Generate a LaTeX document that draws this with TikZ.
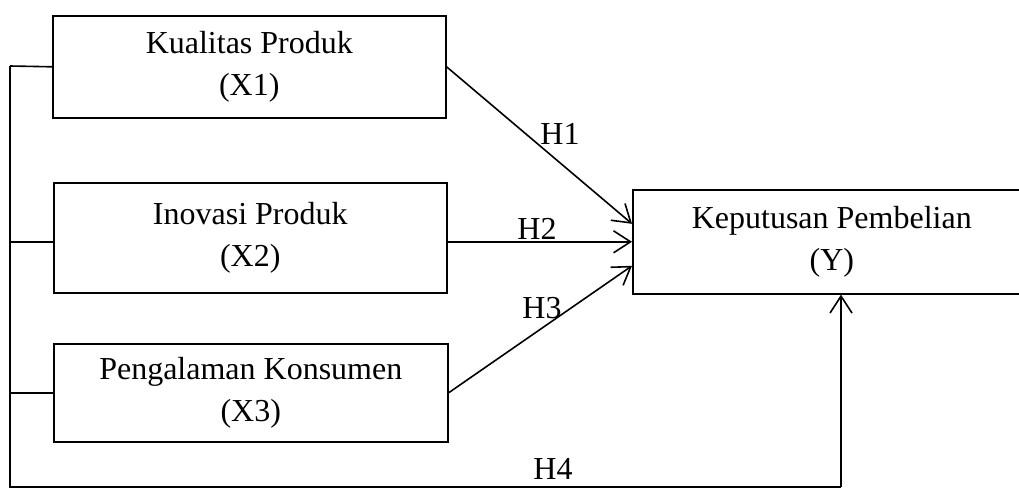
\documentclass[tikz,border=0pt]{standalone}
\usepackage{fontspec}
\setmainfont{Liberation Serif}
\usetikzlibrary{arrows.meta}
\begin{document}
\begin{tikzpicture}[x=1pt,y=-1pt,
  every node/.style={font=\fontsize{32}{42}\selectfont},
  varbox/.style={draw,line width=1.6pt,align=center,inner sep=0pt,anchor=north west},
  conn/.style={line width=1.6pt},
  arr/.style={line width=1.6pt,-{Straight Barb[length=17pt,width=22pt,line width=1.6pt]}},
  hlab/.style={inner sep=0pt}]
\useasboundingbox (0,0) rectangle (1019,487);
\node[varbox,minimum width=393pt,minimum height=102pt] (x1) at (52,15) {Kualitas Produk\\(X1)};
\node[varbox,minimum width=393pt,minimum height=110pt] (x2) at (53,182) {Inovasi Produk\\(X2)};
\node[varbox,minimum width=394pt,minimum height=98pt] (x3) at (53,343) {Pengalaman Konsumen\\(X3)};
\node[varbox,minimum width=398pt,minimum height=104pt] (y) at (632,189) {Keputusan Pembelian\\(Y)};
\coordinate (bt) at (10,66);
\coordinate (bb) at (10,487);
\coordinate (bh) at (841,487);
\draw[conn] (bt) -- (bb) -- (bh);
\draw[conn] (x1.west) -- (bt);
\draw[conn] (x2.west |- y.west) -- (y.west -| bt);
\draw[conn] (x3.west) -- (x3.west -| bt);
\draw[arr] (x1.east) -- ([yshift=18pt]y.west);
\draw[arr] (x2.east |- y.west) -- (y.west);
\draw[arr] (x3.east) -- ([yshift=-24pt]y.west);
\draw[arr] (bh) -- (bh |- y.south);
\node[hlab] (h1) at (560,134) {H1};
\node[hlab] (h2) at (537,229) {H2};
\node[hlab] (h3) at (542,308) {H3};
\node[hlab] (h4) at (553,469) {H4};
\end{tikzpicture}
\end{document}
